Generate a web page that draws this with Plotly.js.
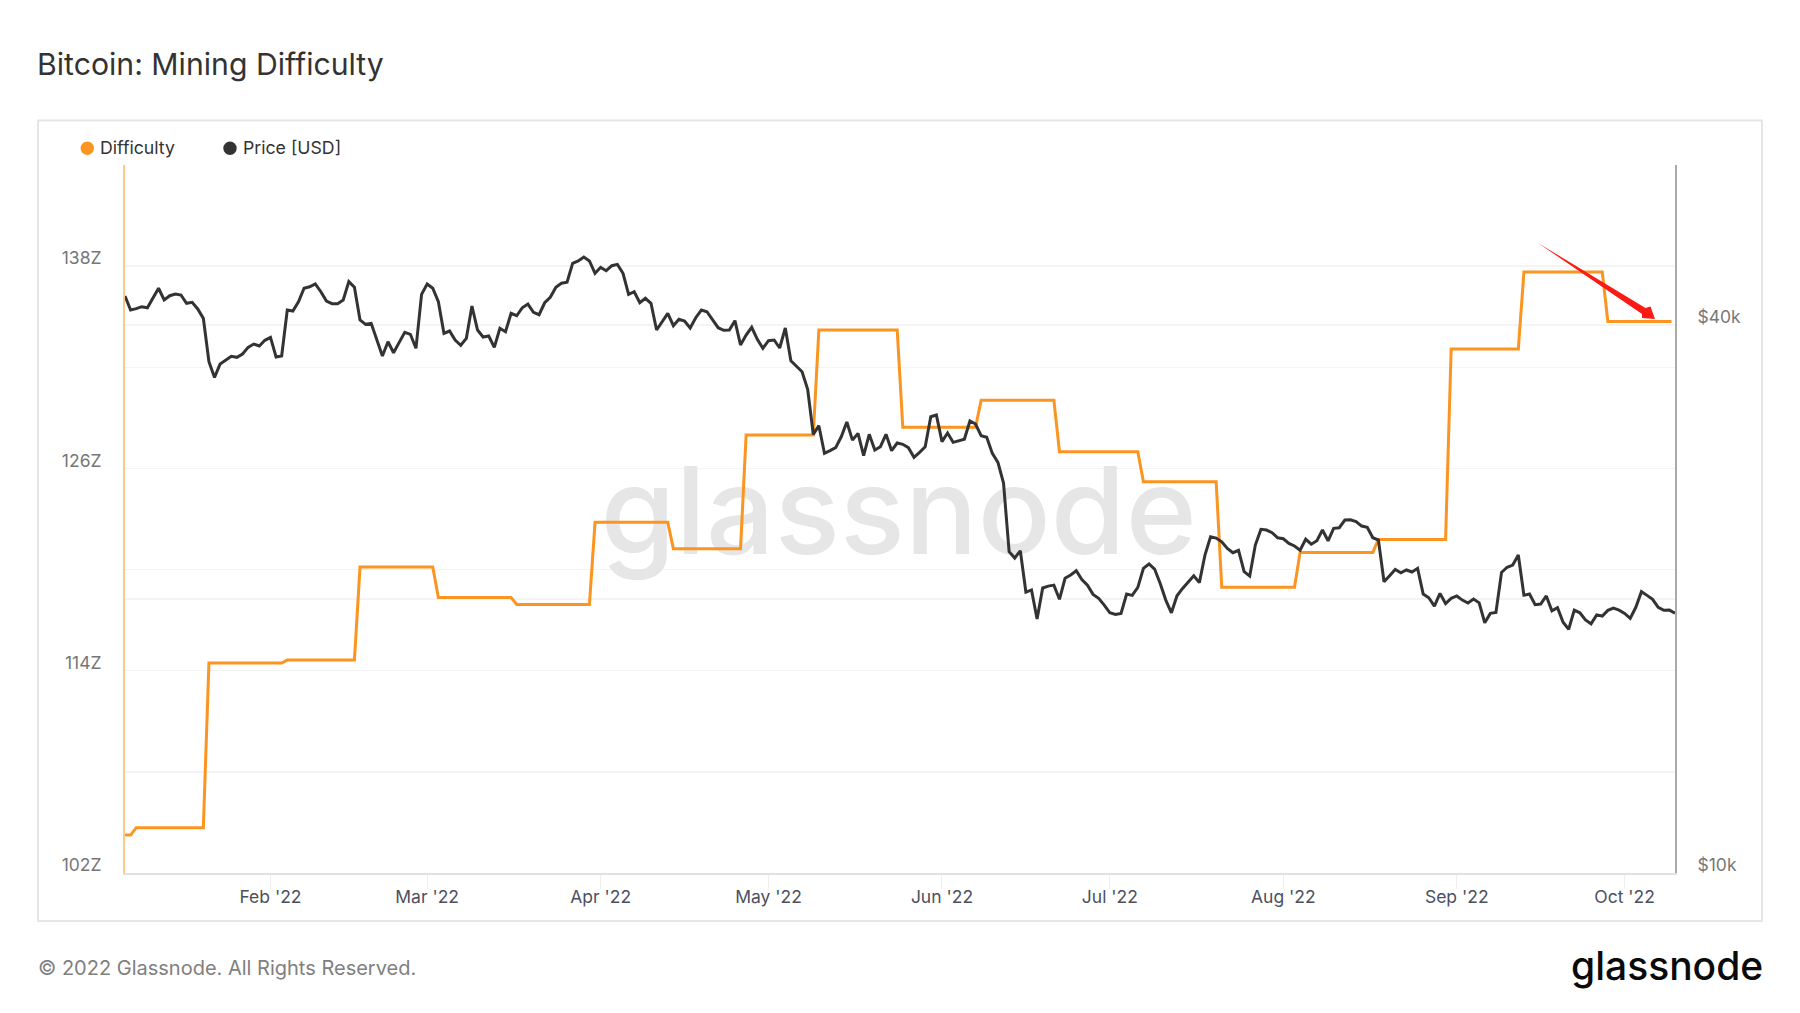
<!DOCTYPE html>
<html>
<head>
<meta charset="utf-8">
<script src="https://cdn.plot.ly/plotly-3.0.1.min.js"></script>
<style>
  html, body { margin: 0; padding: 0; background: #fff; }
  #chart { width: 1800px; height: 1013px; }
</style>
</head>
<body>
<div id="chart"></div>
<script>
// daily BTC close from 2022-01-06
const priceStart = "2022-01-06";
const priceUsd = [
  43070, 41570, 41710, 41920, 41810, 42820, 43920, 42640, 43100, 43290, 43180, 42280, 42390, 41680, 40700, 36470,
  35050, 36260, 36630, 36970, 36880, 37190, 37820, 38140, 37950, 38500, 38790, 36910, 37000, 41570, 41460, 42450,
  43920, 44090, 44400, 43540, 42530, 42240, 42240, 42640, 44660, 44030, 40530, 40090, 40190, 38530, 37000, 38360,
  37310, 38300, 39290, 39090, 37730, 43250, 44400, 43920, 42450, 39190, 39420, 38530, 38020, 38690, 41990, 39520,
  38820, 38920, 37820, 39690, 39350, 41220, 40970, 41810, 42200, 41330, 41080, 42340, 42930, 44030, 44480, 44590,
  46780, 47060, 47540, 47060, 45620, 46310, 45920, 46500, 46660, 45620, 43250, 43540, 42340, 42820, 42280, 39520,
  40330, 41220, 39950, 40600, 40430, 39720, 40770, 41570, 41390, 40530, 39750, 39490, 39520, 40460, 38050, 39020,
  39790, 38600, 37730, 38460, 38530, 37760, 39720, 36560, 36080, 35560, 34010, 30350, 31020, 28920, 29120, 29340,
  30160, 31310, 29910, 30420, 28750, 30350, 29170, 29410, 30350, 29120, 29690, 29590, 29340, 28630, 29000, 29410,
  31730, 31870, 29790, 30450, 29740, 29840, 29970, 31390, 31150, 30240, 30120, 28920, 28270, 26830, 22550, 22190,
  22600, 20360, 20470, 19020, 20570, 20670, 20720, 19990, 21080, 21260, 21490, 21020, 20720, 20240, 20040, 19700,
  19320, 19240, 19290, 20260, 20190, 20600, 21620, 21860, 21580, 20810, 19950, 19320, 20170, 20550, 20900, 21220,
  20850, 22360, 23420, 23340, 23120, 22740, 22490, 22630, 21440, 21200, 22930, 23860, 23820, 23660, 23360, 23300,
  23030, 22880, 22640, 23270, 22980, 23180, 23820, 23180, 23920, 23960, 24430, 24450, 24330, 24060, 23980, 23360,
  23220, 20900, 21220, 21560, 21380, 21530, 21420, 21620, 20260, 20070, 19650, 20290, 19780, 20040, 20160, 19950,
  19800, 20000, 19810, 18840, 19290, 19340, 21400, 21680, 21800, 22360, 20200, 20260, 19720, 19750, 20160, 19420,
  19570, 18860, 18530, 19450, 19320, 18970, 18790, 19220, 19160, 19440, 19550, 19450, 19290, 19050, 19590, 20380,
  20190, 19990, 19590, 19440, 19450, 19300
];

// difficulty is a step series, first and last day of each adjustment
const difficultyDates = [
  "2022-01-06", "2022-01-07", "2022-01-08", "2022-01-20", "2022-01-21", "2022-02-03", "2022-02-04", "2022-02-16",
  "2022-02-17", "2022-03-02", "2022-03-03", "2022-03-16", "2022-03-17", "2022-03-30", "2022-03-31", "2022-04-13",
  "2022-04-14", "2022-04-26", "2022-04-27", "2022-05-09", "2022-05-10", "2022-05-24", "2022-05-25", "2022-06-07",
  "2022-06-08", "2022-06-21", "2022-06-22", "2022-07-06", "2022-07-07", "2022-07-20", "2022-07-21", "2022-08-03",
  "2022-08-04", "2022-08-17", "2022-08-18", "2022-08-30", "2022-08-31", "2022-09-12", "2022-09-13", "2022-09-27",
  "2022-09-28", "2022-10-09 09:00"
];
const difficultyZ = [
  104.25, 104.25, 104.69, 104.69, 114.46, 114.46, 114.63, 114.63,
  120.15, 120.15, 118.34, 118.34, 117.93, 117.93, 122.80, 122.80,
  121.23, 121.23, 127.98, 127.98, 134.21, 134.21, 128.44, 128.44,
  130.05, 130.05, 126.99, 126.99, 125.21, 125.21, 118.95, 118.95,
  121.02, 121.02, 121.79, 121.79, 133.08, 133.08, 137.65, 137.65,
  134.72, 134.72
];

const leftTicks = [102, 108, 114, 120, 126, 132, 138, 144];
const leftLabels = ["102Z", "", "114Z", "", "126Z", "", "138Z", ""];
const rightTicks = [10000, 20000, 40000, 60000];
const rightLabels = ["$10k", "", "$40k", ""];

const W = 1800, H = 1013;
const L = 125, R = 1675, T = 165, B = 873;
// page pixels to paper fractions, for the frame, legend and footer
const px = (x) => (x - L) / (R - L);
const py = (y) => (B - y) / (B - T);

const priceDates = priceUsd.map((_, i) => {
  let d = new Date(priceStart + "T00:00:00Z");
  d.setUTCDate(d.getUTCDate() + i);
  return d.toISOString().slice(0, 10);
});

const ORANGE = "#fb9420";
const DARK = "#333333";
const FONT = "Inter";

const traces = [
  {
    // watermark as a text trace so that it stays under the lines
    x: ["2022-05-24 06:00"],
    y: [122.7],
    mode: "text",
    text: ["glassnode"],
    textposition: "middle center",
    textfont: { family: FONT, size: 121, weight: 500, color: "#e6e6e6" },
    hoverinfo: "skip",
    showlegend: false,
    cliponaxis: false,
  },
  {
    x: difficultyDates,
    y: difficultyZ,
    name: "Difficulty",
    mode: "lines",
    line: { color: ORANGE, width: 3 },
    showlegend: false,
  },
  {
    x: priceDates,
    y: priceUsd,
    name: "Price [USD]",
    yaxis: "y2",
    mode: "lines",
    line: { color: DARK, width: 3 },
    showlegend: false,
  },
];

function legendDot(cx, cy, color) {
  return {
    type: "circle", xref: "paper", yref: "paper",
    x0: px(cx - 6.7), x1: px(cx + 6.7), y0: py(cy + 6.7), y1: py(cy - 6.7),
    fillcolor: color, line: { width: 0 },
  };
}

function note(text, x, y, size, color, weight, anchor) {
  return {
    text: text, xref: "paper", yref: "paper", x: px(x), y: py(y),
    xanchor: anchor || "left", yanchor: "middle", showarrow: false,
    font: { family: FONT, size: size, color: color, weight: weight || 400 },
  };
}

// tapered red arrow drawn on the screenshot
const arrowPts = [[1538, 243], [1645.5, 308], [1650.5, 306.5], [1655, 319], [1642, 318], [1642, 314]];
const arrowPath = "M" + arrowPts.map((p) => px(p[0]) + "," + py(p[1])).join(" L") + " Z";

const layout = {
  width: W,
  height: H,
  margin: { l: L, r: W - R, t: T, b: H - B, pad: 0 },
  paper_bgcolor: "#ffffff",
  plot_bgcolor: "rgba(0,0,0,0)",
  showlegend: false,
  font: { family: FONT },
  title: {
    text: "Bitcoin: Mining Difficulty",
    x: 37 / W, xanchor: "left", xref: "container",
    y: 1 - 64 / H, yanchor: "middle", yref: "container",
    font: { family: FONT, size: 30.2, color: "#333333" },
  },
  xaxis: {
    type: "date",
    range: ["2022-01-06 00:00", "2022-10-10 00:00"],
    tick0: "2022-02-01",
    dtick: "M1",
    tickformat: "%b '%y",
    ticks: "outside",
    ticklen: 14,
    tickcolor: "#eeeeee",
    tickfont: { size: 17.5, color: "#4b5060" },
    ticklabelstandoff: -7,
    showgrid: false,
    showline: true,
    linecolor: "#e0e0e0",
    linewidth: 2,
    zeroline: false,
  },
  yaxis: {
    range: [102, 144],
    tickmode: "array",
    tickvals: leftTicks,
    ticktext: leftLabels,
    tickfont: { size: 17.5, color: "#777777" },
    ticklabelshift: -8,
    ticklabelstandoff: 18,
    gridcolor: "#f4f4f4",
    gridwidth: 1.5,
    showline: true,
    linecolor: "#fcc88c",
    linewidth: 2,
    zeroline: false,
  },
  yaxis2: {
    type: "log",
    overlaying: "y",
    side: "right",
    range: [4, Math.log10(60000)],
    tickmode: "array",
    tickvals: rightTicks,
    ticktext: rightLabels,
    tickfont: { size: 17.5, color: "#777777" },
    ticklabelshift: -8,
    ticklabelstandoff: 17,
    gridcolor: "#f4f4f4",
    gridwidth: 1.5,
    showline: true,
    linecolor: "#aaaaaa",
    linewidth: 2,
    zeroline: false,
  },
  shapes: [
    {
      type: "rect", xref: "paper", yref: "paper", layer: "below",
      x0: px(38), x1: px(1762), y0: py(921), y1: py(120.5),
      fillcolor: "rgba(0,0,0,0)", line: { color: "#e6e6e6", width: 2 },
    },
    legendDot(87.3, 148.3, ORANGE),
    legendDot(230, 148.3, DARK),
    {
      type: "path", xref: "paper", yref: "paper",
      path: arrowPath, fillcolor: "#fb1a14", line: { width: 0 },
    },
  ],
  annotations: [
    note("Difficulty", 98, 148, 17.7, "#333333"),
    note("Price [USD]", 241, 148, 17.7, "#333333"),
    note("© 2022 Glassnode. All Rights Reserved.", 36, 968, 20, "#808080"),
    note("glassnode", 1765, 965, 39, "#0a0a0a", 500, "right"),
  ],
};

Plotly.newPlot("chart", traces, layout, { displayModeBar: false, staticPlot: true });
</script>
</body>
</html>
